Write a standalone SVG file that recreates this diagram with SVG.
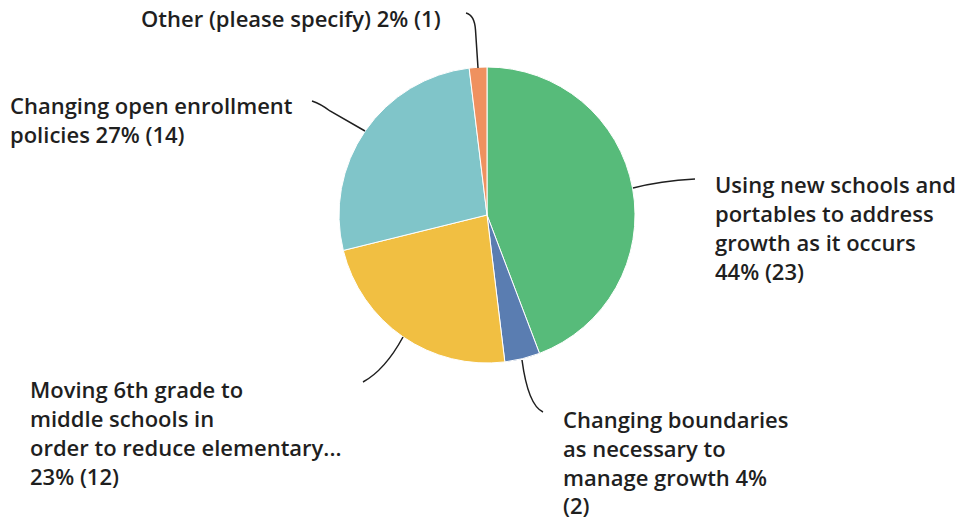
<svg xmlns="http://www.w3.org/2000/svg" width="959" height="521" viewBox="0 0 959 521">
<style>
  .slice { stroke: #ffffff; stroke-width: 1; }
  .lbl { font-family: "Open Sans", "Liberation Sans", sans-serif; font-weight: 600; font-size: 22px; fill: #1f1f1f; }
  .lead { fill: none; stroke: #1f1f1f; stroke-width: 1.5; }
</style>
<rect width="959" height="521" fill="#ffffff"/>
<g id="slice-new-schools"><path class="slice" fill="#57BB7A" d="M487,215 L487,67 A148,148 0 0 1 539.49,353.38 Z"/></g>
<g id="slice-boundaries"><path class="slice" fill="#5A7DB1" d="M487,215 L539.49,353.38 A148,148 0 0 1 504.83,361.92 Z"/></g>
<g id="slice-6th-grade"><path class="slice" fill="#F1BF42" d="M487,215 L504.83,361.92 A148,148 0 0 1 343.30,250.43 Z"/></g>
<g id="slice-open-enrollment"><path class="slice" fill="#80C5C9" d="M487,215 L343.30,250.43 A148,148 0 0 1 469.17,68.08 Z"/></g>
<g id="slice-other"><path class="slice" fill="#EF915F" d="M487,215 L469.17,68.08 A148,148 0 0 1 487,67 Z"/></g>
<g id="connectors">
  <path class="lead" d="M478,68 L475.5,30 Q474.5,15 466,13"/>
  <path class="lead" d="M365,131 L330,111 Q321,104 312,101"/>
  <path class="lead" d="M633,188 Q660,181 695,179"/>
  <path class="lead" d="M403,337 Q385,370 363,382"/>
  <path class="lead" d="M522,360 Q528,405 543,412"/>
</g>
<g id="label-other"><text class="lbl" x="141" y="27">Other (please specify) 2% (1)</text></g>
<g id="label-open-enrollment"><text class="lbl" x="10" y="114">Changing open enrollment<tspan x="10" y="143">policies 27% (14)</tspan></text></g>
<g id="label-new-schools"><text class="lbl" x="715" y="193">Using new schools and<tspan x="715" y="222">portables to address</tspan><tspan x="715" y="251">growth as it occurs</tspan><tspan x="715" y="280">44% (23)</tspan></text></g>
<g id="label-6th-grade"><text class="lbl" x="30" y="398">Moving 6th grade to<tspan x="30" y="427">middle schools in</tspan><tspan x="30" y="456">order to reduce elementary...</tspan><tspan x="30" y="485">23% (12)</tspan></text></g>
<g id="label-boundaries"><text class="lbl" x="563" y="428">Changing boundaries<tspan x="563" y="457">as necessary to</tspan><tspan x="563" y="486">manage growth 4%</tspan><tspan x="563" y="514">(2)</tspan></text></g>
</svg>
